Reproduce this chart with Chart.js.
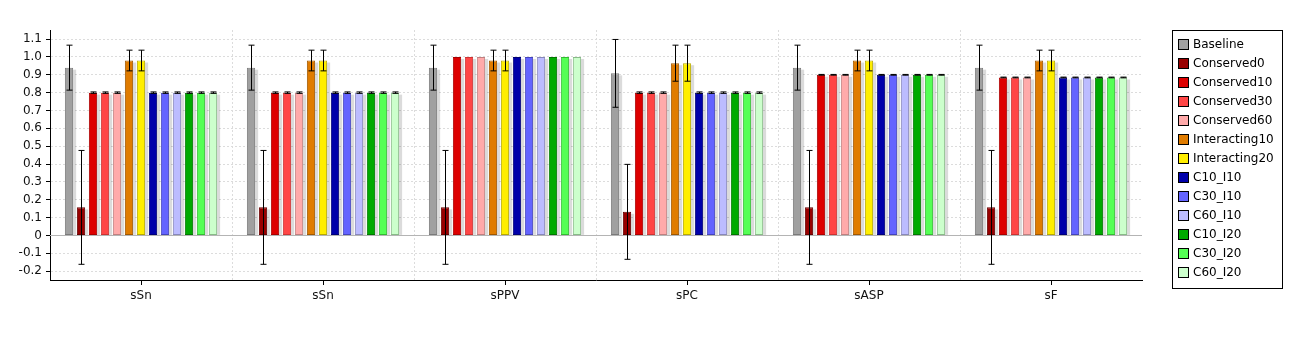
<!DOCTYPE html>
<html>
<head>
<meta charset="utf-8">
<script src="https://cdn.jsdelivr.net/npm/chart.js@4/dist/chart.umd.min.js"></script>
<style>
  html, body { margin: 0; padding: 0; background: #fff; }
  #wrap { width: 1302px; height: 341px; }
</style>
</head>
<body>
<div id="wrap"><canvas id="scoreChart" width="1302" height="341"></canvas></div>
<script>
// Measures on the x axis
const categories = ['sSn', 'sSn', 'sPPV', 'sPC', 'sASP', 'sF'];

// Mean score per measure for each run
const baseline      = [0.94, 0.94, 0.94, 0.908, 0.94, 0.94];
const conserved0    = [0.157, 0.157, 0.157, 0.132, 0.157, 0.157];
const conserved10   = [0.8, 0.8, 1.0, 0.8, 0.9, 0.885];
const conserved30   = [0.8, 0.8, 1.0, 0.8, 0.9, 0.885];
const conserved60   = [0.8, 0.8, 1.0, 0.8, 0.9, 0.885];
const interacting10 = [0.98, 0.98, 0.98, 0.965, 0.98, 0.98];
const interacting20 = [0.98, 0.98, 0.98, 0.965, 0.98, 0.98];
const c10i10        = [0.8, 0.8, 1.0, 0.8, 0.9, 0.885];
const c30i10        = [0.8, 0.8, 1.0, 0.8, 0.9, 0.885];
const c60i10        = [0.8, 0.8, 1.0, 0.8, 0.9, 0.885];
const c10i20        = [0.8, 0.8, 1.0, 0.8, 0.9, 0.885];
const c30i20        = [0.8, 0.8, 1.0, 0.8, 0.9, 0.885];
const c60i20        = [0.8, 0.8, 1.0, 0.8, 0.9, 0.885];

// Standard deviation per measure (error bar half-length)
const baselineErr    = [0.126, 0.126, 0.126, 0.19, 0.126, 0.126];
const conserved0Err  = [0.319, 0.319, 0.319, 0.266, 0.319, 0.319];
const interactingErr = [0.058, 0.058, 0.058, 0.101, 0.058, 0.058];
const flatErr        = [0.004, 0.004, 0, 0.004, 0.002, 0.002];

// Y axis tick labels
const yTicks = ['-0.2', '-0.1', '0', '0.1', '0.2', '0.3', '0.4', '0.5', '0.6', '0.7', '0.8', '0.9', '1.0', '1.1'];

const series = [
    { label: 'Baseline',      data: baseline,      err: baselineErr,    fill: '#a0a0a0', line: '#7a7a7a' },
    { label: 'Conserved0',    data: conserved0,    err: conserved0Err,  fill: '#990000', line: '#660000' },
    { label: 'Conserved10',   data: conserved10,   err: flatErr,        fill: '#dd0000', line: '#aa0000' },
    { label: 'Conserved30',   data: conserved30,   err: flatErr,        fill: '#ff4646', line: '#cc3333' },
    { label: 'Conserved60',   data: conserved60,   err: flatErr,        fill: '#ffaaaa', line: '#c08080' },
    { label: 'Interacting10', data: interacting10, err: interactingErr, fill: '#e07c00', line: '#a05800' },
    { label: 'Interacting20', data: interacting20, err: interactingErr, fill: '#ffee00', line: '#b8aa00' },
    { label: 'C10_I10',       data: c10i10,        err: flatErr,        fill: '#0000aa', line: '#000077' },
    { label: 'C30_I10',       data: c30i10,        err: flatErr,        fill: '#6464ff', line: '#4444bb' },
    { label: 'C60_I10',       data: c60i10,        err: flatErr,        fill: '#bcbcff', line: '#8888bb' },
    { label: 'C10_I20',       data: c10i20,        err: flatErr,        fill: '#00aa00', line: '#007700' },
    { label: 'C30_I20',       data: c30i20,        err: flatErr,        fill: '#55ff55', line: '#33bb33' },
    { label: 'C60_I20',       data: c60i20,        err: flatErr,        fill: '#ccffcc', line: '#88bb88' }
];

const FONT = 'DejaVu Sans';
Chart.defaults.font.family = FONT;
Chart.defaults.font.size = 12;
Chart.defaults.color = '#111';

// Zero line and grey drop shadow behind every bar
const barShadow = {
    id: 'barShadow',
    beforeDatasetsDraw(chart) {
        const ctx = chart.ctx;
        const area = chart.chartArea;
        ctx.save();
        const y0 = Math.round(chart.scales.y.getPixelForValue(0)) + 0.5;
        ctx.strokeStyle = '#b4b4b4';
        ctx.lineWidth = 1;
        ctx.beginPath();
        ctx.moveTo(area.left, y0);
        ctx.lineTo(area.right, y0);
        ctx.stroke();

        ctx.fillStyle = 'rgba(0, 0, 0, 0.14)';
        chart.data.datasets.forEach((ds, i) => {
            chart.getDatasetMeta(i).data.forEach(bar => {
                const p = bar.getProps(['x', 'y', 'base', 'width'], true);
                const top = Math.min(p.y, p.base) + 2;
                const bottom = Math.max(p.y, p.base);
                ctx.fillRect(p.x - p.width / 2 + 3, top, p.width, bottom - top);
            });
        });
        ctx.restore();
    }
};

// Error bars from the err arrays
const errorBars = {
    id: 'errorBars',
    afterDatasetsDraw(chart) {
        const ctx = chart.ctx;
        const yScale = chart.scales.y;
        ctx.save();
        ctx.strokeStyle = '#000';
        ctx.lineWidth = 1;
        series.forEach((s, i) => {
            chart.getDatasetMeta(i).data.forEach((bar, j) => {
                const e = s.err[j];
                if (!e) return;
                const x = Math.round(bar.x) + 0.5;
                const hi = yScale.getPixelForValue(s.data[j] + e);
                const lo = yScale.getPixelForValue(s.data[j] - e);
                ctx.beginPath();
                ctx.moveTo(x, hi);
                ctx.lineTo(x, lo);
                ctx.moveTo(x - 3, hi);
                ctx.lineTo(x + 3, hi);
                ctx.moveTo(x - 3, lo);
                ctx.lineTo(x + 3, lo);
                ctx.stroke();
            });
        });
        ctx.restore();
    }
};

// Centre tick marks on the category axis and the boxed legend
const axisAndLegend = {
    id: 'axisAndLegend',
    afterDraw(chart) {
        const ctx = chart.ctx;
        const xScale = chart.scales.x;
        const bottom = chart.chartArea.bottom;
        ctx.save();
        ctx.strokeStyle = '#000';
        ctx.lineWidth = 1;
        categories.forEach((c, i) => {
            const x = Math.round(xScale.getPixelForValue(i)) + 0.5;
            ctx.beginPath();
            ctx.moveTo(x, bottom);
            ctx.lineTo(x, bottom + 5);
            ctx.stroke();
        });

        const lx = 1172, ly = 30, lw = 110, lh = 258;
        ctx.strokeRect(lx + 0.5, ly + 0.5, lw, lh);
        ctx.font = '12px "' + FONT + '"';
        ctx.textBaseline = 'middle';
        ctx.textAlign = 'left';
        series.forEach((s, i) => {
            const yc = Math.round(43.5 + i * 19.03);
            ctx.fillStyle = s.fill;
            ctx.fillRect(lx + 6, yc - 5, 10, 10);
            ctx.strokeStyle = '#000';
            ctx.strokeRect(lx + 6.5, yc - 4.5, 10, 10);
            ctx.fillStyle = '#000';
            ctx.fillText(s.label, lx + 21, yc + 1);
        });
        ctx.restore();
    }
};

const scoreData = {
    labels: categories,
    datasets: series.map(s => ({
        label: s.label,
        data: s.data,
        backgroundColor: s.fill,
        borderColor: s.line,
        borderWidth: 1,
        borderSkipped: false,
        categoryPercentage: 0.857,
        barPercentage: 0.69
    }))
};

const scoreConfig = {
    type: 'bar',
    data: scoreData,
    options: {
        responsive: false,
        animation: false,
        layout: { padding: { left: 0, top: 30, right: 160, bottom: 0 } },
        plugins: {
            legend: { display: false },
            tooltip: { enabled: false }
        },
        scales: {
            x: {
                offset: true,
                afterFit: scale => { scale.height = 61; },
                grid: {
                    offset: true,
                    drawTicks: false,
                    color: c => (c.index >= 1 && c.index <= 5) ? '#dcdcdc' : 'rgba(0,0,0,0)'
                },
                border: { color: '#000', width: 1, dash: [2, 2] },
                ticks: { padding: 9, color: '#111', maxRotation: 0 }
            },
            y: {
                min: -0.25,
                max: 1.151,
                afterFit: scale => { scale.width = 50; },
                grid: {
                    color: '#dcdcdc',
                    tickColor: '#000',
                    tickLength: 4
                },
                border: { color: '#000', width: 1, dash: [2, 2] },
                ticks: {
                    stepSize: 0.1,
                    includeBounds: false,
                    padding: 4,
                    color: '#111',
                    callback: (v, i) => yTicks[i]
                }
            }
        }
    },
    plugins: [barShadow, errorBars, axisAndLegend]
};

const scoreCtx = document.getElementById('scoreChart').getContext('2d');
const scoreChart = new Chart(scoreCtx, scoreConfig);
</script>
</body>
</html>
